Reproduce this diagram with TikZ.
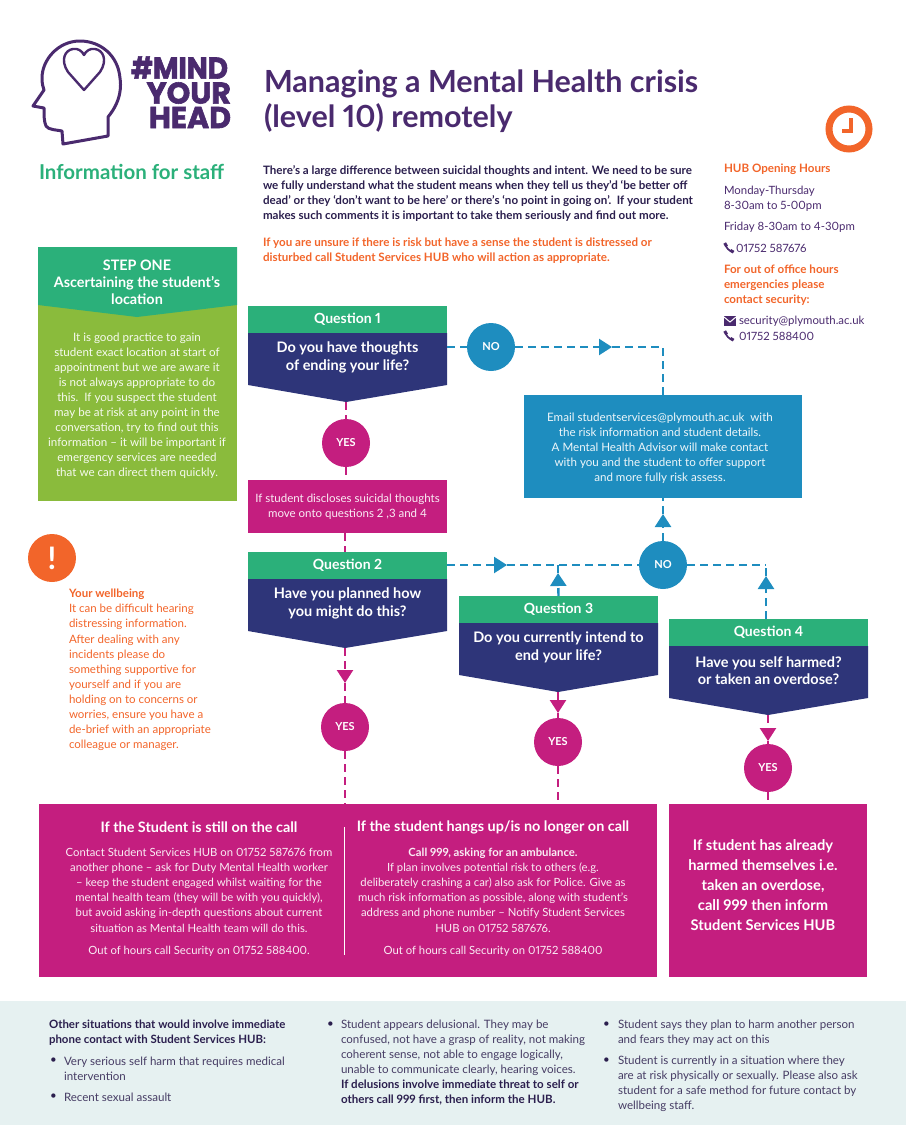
\documentclass[tikz,border=0pt]{standalone}
\usepackage{graphicx}
\usepackage{fontspec}
\setmainfont{Lato}[Numbers=Proportional]
\newfontfamily\logofont[FakeBold=2]{Poppins Bold}
\usetikzlibrary{arrows.meta,calc}
\definecolor{cpurple}{HTML}{4A2A6E}
\definecolor{cdark}{HTML}{2B1F4E}
\definecolor{cfoot}{HTML}{463C64}
\definecolor{cgreen}{HTML}{2BB07A}
\definecolor{cnavy}{HTML}{2E3579}
\definecolor{cmag}{HTML}{C41E7F}
\definecolor{cblue}{HTML}{1E8DBF}
\definecolor{corange}{HTML}{F2652A}
\definecolor{climeb}{HTML}{8ABB3C}
\definecolor{cpanel}{HTML}{E6F1F1}
\newcommand{\fs}[2]{\fontsize{#1}{#2}\selectfont}
\tikzset{
 txt/.style={inner sep=0pt,outer sep=0pt},
 bnode/.style={circle,minimum size=48pt,inner sep=0pt,outer sep=0pt,text=white,font=\fs{11}{13}\bfseries},
 yesc/.style={bnode,fill=cmag},
 noc/.style={bnode,fill=cblue},
 bconn/.style={cblue,line width=2.4pt,dash pattern=on 8pt off 5pt},
 mconn/.style={cmag,line width=2.4pt,dash pattern=on 8pt off 5pt},
 tipb/.style={-{Triangle[width=16pt,length=13pt]}},
 body/.style={txt,font=\fs{11.3}{15.2},text=white!92!cmag,align=center},
 foot/.style={txt,font=\fs{11.55}{15},text=cfoot,align=left,anchor=west},
 side/.style={txt,font=\fs{11.4}{15.1},text=cpurple,align=left,anchor=west},
 sideo/.style={side,text=corange,font=\fs{11.6}{15.3}\bfseries},
 well/.style={txt,font=\fs{11.5}{15.1},text=corange,align=left,anchor=west},
 logot/.style={txt,anchor=east,text=cpurple,font=\logofont\fs{30}{30}},
 bhead/.style={txt,text=white,font=\fs{14.4}{16}\bfseries},
}
% name, x-left, y-top, tip-x, title, question
\newcommand{\qbox}[6]{
 \node[txt,fill=cgreen,minimum width=199pt,minimum height=27pt,anchor=north west,text=white,font=\fs{14}{16}\bfseries] (#1h) at (#2,#3) {\raisebox{-1pt}{#5}};
 \fill[cnavy] (#1h.south west) -- ++(0,52) -- (#4,#3+27+69) coordinate (#1t) -- ($(#1h.south east)+(0,52)$) -- (#1h.south east) -- cycle;
 \node[txt,text=white,align=center,font=\fs{14.5}{17.5}\bfseries] (#1q) at ($(#1h.south)+(0,24.5)$) {#6};
}
\newcommand{\phonemark}[2]{
 \draw[cpurple,line width=1.7pt] (#1+1.5,#2+1) .. controls (#1+2,#2+5) and (#1+5,#2+8) .. (#1+9,#2+8.8);
 \draw[cpurple,line width=3pt] (#1+.7,#2) -- (#1+2.6,#2+3.4);
 \draw[cpurple,line width=3pt] (#1+6.4,#2+7.3) -- (#1+9.6,#2+9.2);
}
\begin{document}
\begin{tikzpicture}[x=1pt,y=-1pt]
\useasboundingbox (0,0) rectangle (906,1125);
% logo
\draw[cpurple,line width=3pt,line join=round] (63,144) -- (108,136) -- (108,117) .. controls (122,100) and (121,85) .. (120,78) .. controls (118,55) and (100,41) .. (80,41) .. controls (58,41) and (42,60) .. (42,78) .. controls (42,84) and (43,87) .. (44,90) -- (33,106) -- (44,108) .. controls (44,115) and (44,122) .. (46,126) .. controls (48,130) and (58,130) .. (62,131) -- cycle;
\draw[cpurple,line width=2.4pt,line join=round] (84,90) -- (68,72) .. controls (60,60) and (65,50) .. (73,49) .. controls (78,48) and (82,51) .. (84,55) .. controls (86,51) and (90,48) .. (95,49) .. controls (103,50) and (108,60) .. (100,72) -- cycle;
\node[logot] (logo1) at (228,67.5) {\scalebox{.8}[1]{\#}\scalebox{.93}[1]{MIND}};
\node[logot] (logo2) at (231,93) {YOUR};
\node[logot] (logo3) at (231,117.5) {HEAD};
\node[txt,anchor=west,text=cpurple,font=\fs{30.5}{35}\bfseries,align=left] (title) at (264,101) {Managing a Mental Health crisis\\(level 10) remotely};
\node[txt,anchor=west,text=cgreen,font=\fs{20.5}{24}\bfseries] (info) at (39,172) {Information for staff};
% clock
\node[circle,draw=corange,line width=7pt,minimum size=40pt,inner sep=0pt,outer sep=0pt] (clock) at (849,129) {};
\draw[corange,line width=3.2pt] (851,118) -- (851,131) -- (842,131);
% intro
\node[txt,anchor=west,text=cdark,align=left,font=\fs{11.6}{15}\bfseries] (intro) at (263,193) {There’s a large difference between suicidal thoughts and intent. We need to be sure\\we fully understand what the student means when they tell us they’d ‘be better off\\dead’ or they ‘don’t want to be here’ or there’s ‘no point in going on’.\ \ If your student\\makes such comments it is important to take them seriously and find out more.};
\node[txt,anchor=west,text=corange,align=left,font=\fs{11.6}{15.2}\bfseries] (intro2) at (263,250.5) {If you are unsure if there is risk but have a sense the student is distressed or\\disturbed call Student Services HUB who will action as appropriate.};
% side column
\node[sideo] (s1) at (724,169) {HUB Opening Hours};
\node[side] (s2) at (724,198.5) {Monday-Thursday\\8-30am to 5-00pm};
\node[side] (s3) at (724,227) {Friday 8-30am to 4-30pm};
\phonemark{724}{243}
\node[side] (s4) at (736,248) {01752 587676};
\node[sideo] (s5) at (724,285) {For out of office hours\\emergencies please\\contact security:};
\fill[cpurple] (724,316) rectangle (736,326);
\draw[white,line width=1pt] (724,317) -- (730,322) -- (736,317);
\node[side] (s6) at (739,321) {security@plymouth.ac.uk};
\phonemark{724}{331}
\node[side] (s7) at (739,336) {01752 588400};
% step one
\node[txt,fill=climeb,minimum width=199pt,minimum height=201pt,anchor=north west] (sb) at (38,300) {};
\fill[cgreen] (38,247) rectangle (237,305) (38,305) -- (137,317) -- (237,305) -- cycle;
\node[txt,text=white,align=center,font=\fs{14.4}{16.8}\bfseries] (st) at (137,282) {STEP ONE\\Ascertaining the student’s\\location};
\node[txt,text=white!92!climeb,align=center,font=\fs{11.6}{15.05}] (sbt) at (137,405.5) {It is good practice to gain\\student exact location at start of\\appointment but we are aware it\\is not always appropriate to do\\this.\ \ If you suspect the student\\may be at risk at any point in the\\conversation, try to find out this\\information – it will be important if\\emergency services are needed\\that we can direct them quickly.};
% wellbeing
\node[circle,fill=corange,minimum size=48pt,inner sep=0pt,text=white,font=\fs{31}{31}\bfseries] (ex) at (52,558) {!};
\node[well] (w) at (69,670) {\textbf{Your wellbeing}\\It can be difficult hearing\\distressing information.\\After dealing with any\\incidents please do\\something supportive for\\yourself and if you are\\holding on to concerns or\\worries, ensure you have a\\de-brief with an appropriate\\colleague or manager.};
% bottom magenta
\node[txt,fill=cmag,minimum width=618pt,minimum height=173pt,anchor=north west] (bl) at (39,804) {};
\node[txt,fill=cmag,minimum width=198pt,minimum height=173pt,anchor=north west] (br) at (669,804) {};
\coordinate (sepa) at (344,827); \coordinate (sepb) at (344,955);
\draw[white,line width=1pt] (sepa) -- (sepb);
\node[bhead] (bl1) at (199,827) {If the Student is still on the call};
\node[body] (bl2) at (199,890) {Contact Student Services HUB on 01752 587676 from\\another phone – ask for Duty Mental Health worker\\– keep the student engaged whilst waiting for the\\mental health team (they will be with you quickly),\\but avoid asking in-depth questions about current\\situation as Mental Health team will do this.};
\node[body] (bl3) at (199,951.5) {Out of hours call Security on 01752 588400.};
\node[bhead] (bm1) at (493,827) {If the student hangs up/is no longer on call};
\node[body] (bm2) at (493,890) {\textbf{Call 999, asking for an ambulance.}\\If plan involves potential risk to others (e.g.\\deliberately crashing a car) also ask for Police. Give as\\much risk information as possible, along with student’s\\address and phone number – Notify Student Services\\HUB on 01752 587676.};
\node[body] (bm3) at (493,951.5) {Out of hours call Security on 01752 588400};
\node[txt,text=white,align=center,font=\fs{14.7}{19.9}\bfseries] (br1) at (763,885) {If student has already\\harmed themselves i.e.\\taken an overdose,\\call 999 then inform\\Student Services HUB};
% footer panel
\fill[cpanel] (0,1001) rectangle (906,1125);
\node[foot,text=cdark,font=\fs{11.45}{15}\bfseries] (f1) at (49,1032.5) {Other situations that would involve immediate\\phone contact with Student Services HUB:};
\node[foot,text=cdark] (b1) at (50,1061) {•}; \node[foot] (f2) at (64,1068.5) {Very serious self harm that requires medical\\intervention};
\node[foot,text=cdark] (b2) at (50,1097) {•}; \node[foot] (f3) at (64,1097) {Recent sexual assault};
\node[foot,text=cdark] (b3) at (327,1025) {•}; \node[foot] (f4) at (341,1062.5) {Student appears delusional. They may be\\confused, not have a grasp of reality, not making\\coherent sense, not able to engage logically,\\unable to communicate clearly, hearing voices.\\\textcolor{cdark}{\textbf{If delusions involve immediate threat to self or}}\\\textcolor{cdark}{\textbf{others call 999 first, then inform the HUB.}}};
\node[foot,text=cdark] (b4) at (603,1025) {•}; \node[foot] (f5) at (618,1032.5) {Student says they plan to harm another person\\and fears they may act on this};
\node[foot,text=cdark] (b5) at (603,1061) {•}; \node[foot] (f6) at (618,1083.5) {Student is currently in a situation where they\\are at risk physically or sexually. Please also ask\\student for a safe method for future contact by\\wellbeing staff.};
% questions
\qbox{qa}{248}{306}{346}{Question 1}{Do you have thoughts\\of ending your life?}
\qbox{qb}{248}{552}{345}{Question 2}{Have you planned how\\you might do this?}
\qbox{qc}{459}{596}{558}{Question 3}{Do you currently intend to\\end your life?}
\qbox{qd}{669}{619}{768}{Question 4}{Have you self harmed?\\or taken an overdose?}
% boxes
\node[txt,fill=cblue,minimum width=278pt,minimum height=103pt,anchor=north west] (em) at (524,395) {};
\node[txt,text=white!92!cblue,align=center,font=\fs{11.6}{15.1}] (emt) at (660,448) {Email studentservices@plymouth.ac.uk\ \ with\\the risk information and student details.\\A Mental Health Advisor will make contact\\with you and the student to offer support\\and more fully risk assess.};
\node[txt,fill=cmag,minimum width=199pt,minimum height=53pt,anchor=north west,text=white!92!cmag,align=center,font=\fs{11.5}{15.1}] (dis) at (248,480) {If student discloses suicidal thoughts\\move onto questions 2 ,3 and 4};
% circles
\node[noc] (no1) at (491,347) {NO};
\node[noc] (no2) at (663,565) {NO};
\node[yesc] (y1) at (346,443) {YES};
\node[yesc] (y2) at (345,727) {YES};
\node[yesc] (y3) at (558,742) {YES};
\node[yesc] (y4) at (768,768) {YES};
% blue connectors
\coordinate (qaE) at (447,347);
\coordinate (a1) at (612,347);
\coordinate (c1) at (663,347);
\coordinate (qbE) at (447,565);
\coordinate (a2) at (507,565);
\coordinate (j3) at (558,565);
\coordinate (a3) at (558,573);
\coordinate (a4) at (766,576);
\coordinate (c4) at (766,565);
\coordinate (a5) at (663,514);
\coordinate (qdN) at (766,619);
\draw[bconn] (qaE) -- (no1);
\draw[bconn,tipb] (no1) -- (a1);
\draw[bconn] (a1) -- (c1) -- (em.north -| c1);
\draw[bconn,tipb] (qbE) -- (a2);
\draw[bconn] (a2) -- (no2);
\draw[bconn,tipb] (qch.north) -- (a3);
\draw[bconn] (a3) -- (j3);
\draw[bconn,tipb] (no2) -- (a5);
\draw[bconn] (a5) -- (a5 |- em.south);
\draw[bconn] (no2) -- (c4);
\draw[bconn,tipb] (qdN) -- (a4);
\draw[bconn] (a4) -- (c4);
% magenta connectors
\coordinate (m2) at (345,683);
\coordinate (m3) at (558,713);
\coordinate (m4) at (768,741);
\draw[mconn] (qat) -- (y1);
\draw[mconn] (y1) -- (y1 |- dis.north);
\draw[mconn] (dis.south -| qbt) -- (qbt |- qbh.north);
\draw[mconn,tipb] (qbt) -- (m2);
\draw[mconn] (m2) -- (y2);
\draw[mconn] (y2) -- (y2 |- bl.north);
\draw[mconn,tipb] (qct) -- (m3);
\draw[mconn] (m3) -- (y3);
\draw[mconn] (y3) -- (y3 |- bl.north);
\draw[mconn,tipb] (qdt) -- (m4);
\draw[mconn] (m4) -- (y4);
\draw[mconn] (y4) -- (y4 |- br.north);
\end{tikzpicture}
\end{document}
